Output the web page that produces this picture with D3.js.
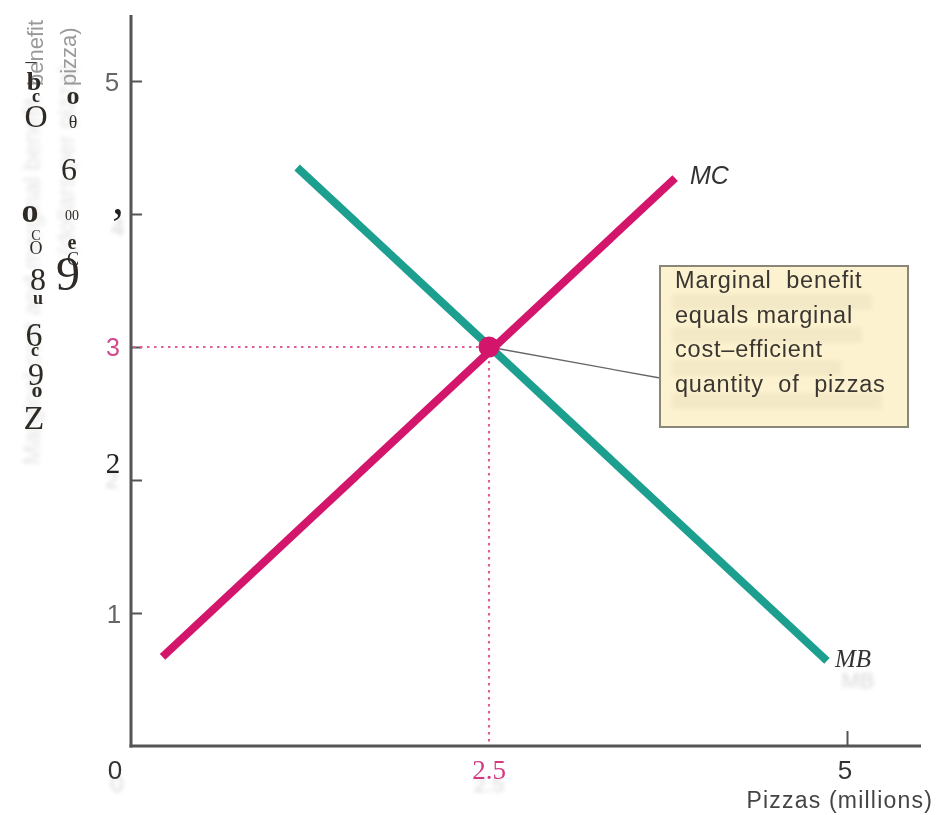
<!DOCTYPE html>
<html>
<head>
<meta charset="utf-8">
<script src="https://cdn.jsdelivr.net/npm/d3@7/dist/d3.min.js"></script>
<style>
  html, body { margin: 0; padding: 0; background: #ffffff; }
  svg { display: block; }
</style>
</head>
<body>
<script>
// Marginal cost (MC) and marginal benefit (MB) of pizza
const xDomain = [0, 5];
const yDomain = [0, 5];
const mcX = [0.22, 3.80];
const mcY = [0.67, 4.27];
const mbX = [1.16, 4.86];
const mbY = [4.35, 0.64];
const efficientQ = 2.5;
const efficientP = 3;
const yTicks = [1, 2, 3, 4, 5];
const yTickLabels = ["1", "2", "3", ",", "5"];
const xTicks = [0, 2.5, 5];
const xTickLabels = ["0", "2.5", "5"];
const noteLines = ["Marginal  benefit", "equals marginal", "cost\u2013efficient", "quantity  of  pizzas"];

const W = 936, H = 815;
const x = d3.scaleLinear().domain(xDomain).range([131, 847]);
const y = d3.scaleLinear().domain(yDomain).range([746, 81]);

const svg = d3.select("body").append("svg").attr("width", W).attr("height", H);
const defs = svg.append("defs");
defs.append("filter").attr("id", "soft").append("feGaussianBlur").attr("stdDeviation", 2.2);
defs.append("filter").attr("id", "soft1").append("feGaussianBlur").attr("stdDeviation", 0.6);

const pink = "#d3166c", teal = "#1d9f90", axisCol = "#555555";
const sans = "'Liberation Sans', Arial, sans-serif";
const serif = "'Liberation Serif', 'Times New Roman', serif";

// faint shadow copies of labels
const ghost = svg.append("g").attr("filter", "url(#soft)").attr("fill", "#d8d8d8");
ghost.append("text").attr("transform", "translate(40,465) rotate(-90)")
  .attr("font-family", sans).attr("font-size", 24).attr("fill", "#e4e4e4")
  .text("Marginal cost and marginal benefit");
ghost.append("text").attr("transform", "translate(74,255) rotate(-90)")
  .attr("font-family", sans).attr("font-size", 24).attr("fill", "#e4e4e4")
  .text("(dollars per pizza)");
ghost.append("text").attr("x", 112).attr("y", 488).attr("font-family", sans).attr("font-size", 24).attr("text-anchor", "middle").text("2");
ghost.append("text").attr("x", 118).attr("y", 236).attr("font-family", sans).attr("font-size", 24).attr("text-anchor", "middle").text("4");
ghost.append("text").attr("x", x(0) - 14).attr("y", 792).attr("font-family", sans).attr("font-size", 24).attr("text-anchor", "middle").text("0");
ghost.append("text").attr("x", x(2.5)).attr("y", 792).attr("font-family", sans).attr("font-size", 22).attr("text-anchor", "middle").text("2.5");
ghost.append("text").attr("x", 858).attr("y", 688).attr("font-family", sans).attr("font-size", 22).attr("text-anchor", "middle").text("MB");

// visible fragments of the vertical axis title
svg.append("text").attr("transform", "translate(43,86) rotate(-90)")
  .attr("font-family", sans).attr("font-size", 22).attr("fill", "#9a9a9a")
  .attr("filter", "url(#soft1)").text("benefit");
svg.append("text").attr("transform", "translate(76,86) rotate(-90)")
  .attr("font-family", sans).attr("font-size", 22).attr("fill", "#9a9a9a")
  .attr("filter", "url(#soft1)").text("pizza)");

// serif glyph residue over the axis title
const glyphs = [
  ["\u2013", 31, 68, 22, "normal"], ["b", 34, 90, 26, "bold"], ["c", 36, 102, 18, "bold"], ["O", 36, 127, 32, "normal"],
  ["o", 73, 104, 26, "bold"], ["\u03b8", 73, 128, 18, "normal"], ["6", 69, 180, 32, "normal"],
  ["o", 30, 222, 34, "bold"], ["00", 72, 220, 14, "normal"], ["C", 36, 240, 14, "normal"], ["O", 36, 254, 18, "normal"],
  ["e", 72, 249, 20, "bold"], ["C", 73, 265, 18, "normal"], ["8", 38, 290, 32, "normal"], ["9", 68, 290, 48, "normal"],
  ["u", 38, 304, 18, "bold"], ["6", 34, 346, 34, "normal"], ["c", 35, 356, 18, "bold"], ["9", 36, 385, 32, "normal"],
  ["o", 37, 397, 22, "bold"], ["Z", 34, 429, 34, "normal"]
];
svg.append("g").selectAll("text").data(glyphs).join("text")
  .attr("x", d => d[1]).attr("y", d => d[2]).attr("font-size", d => d[3]).attr("font-weight", d => d[4])
  .attr("text-anchor", "middle").attr("font-family", serif).attr("fill", "#2e2a25").text(d => d[0]);

// axes
const yAxis = d3.axisLeft(y).tickValues(yTicks).tickSizeInner(-11).tickSizeOuter(0).tickFormat("");
svg.append("g").attr("transform", `translate(${x(0)},0)`).call(yAxis)
  .call(g => g.select(".domain").remove())
  .call(g => g.selectAll(".tick line").attr("stroke", axisCol).attr("stroke-width", 2));
const xAxis = d3.axisBottom(x).tickValues([5]).tickSizeInner(-15).tickSizeOuter(0).tickFormat("");
svg.append("g").attr("transform", `translate(0,${y(0)})`).call(xAxis)
  .call(g => g.select(".domain").remove())
  .call(g => g.selectAll(".tick line").attr("stroke", axisCol).attr("stroke-width", 2));
svg.append("line").attr("x1", x(0)).attr("x2", x(0)).attr("y1", 15).attr("y2", y(0) + 1.5)
  .attr("stroke", axisCol).attr("stroke-width", 3);
svg.append("line").attr("x1", x(0) - 1.5).attr("x2", 921).attr("y1", y(0)).attr("y2", y(0))
  .attr("stroke", axisCol).attr("stroke-width", 3);

// y tick labels
const yLabelStyle = {
  "1": { f: sans, c: "#666", s: 26, dx: -17, dy: 10 },
  "2": { f: serif, c: "#222", s: 29, dx: -18, dy: -7 },
  "3": { f: sans, c: "#d04a8c", s: 25, dx: -18, dy: 9 },
  ",": { f: serif, c: "#222", s: 46, dx: -13, dy: 0 },
  "5": { f: sans, c: "#666", s: 26, dx: -19, dy: 10 }
};
svg.append("g").selectAll("text").data(yTicks).join("text")
  .attr("x", (d, i) => x(0) + yLabelStyle[yTickLabels[i]].dx)
  .attr("y", (d, i) => y(d) + yLabelStyle[yTickLabels[i]].dy)
  .attr("text-anchor", "middle")
  .attr("font-family", (d, i) => yLabelStyle[yTickLabels[i]].f)
  .attr("font-size", (d, i) => yLabelStyle[yTickLabels[i]].s)
  .attr("fill", (d, i) => yLabelStyle[yTickLabels[i]].c)
  .text((d, i) => yTickLabels[i]);

// x tick labels
const xLabelStyle = [
  { f: sans, c: "#333", s: 26, dx: -16 },
  { f: serif, c: "#d23a82", s: 27, dx: 0 },
  { f: sans, c: "#333", s: 26, dx: -2 }
];
svg.append("g").selectAll("text").data(xTicks).join("text")
  .attr("x", (d, i) => x(d) + xLabelStyle[i].dx).attr("y", 779)
  .attr("text-anchor", "middle")
  .attr("font-family", (d, i) => xLabelStyle[i].f)
  .attr("font-size", (d, i) => xLabelStyle[i].s)
  .attr("fill", (d, i) => xLabelStyle[i].c)
  .text((d, i) => xTickLabels[i]);
svg.append("text").attr("x", 933).attr("y", 808).attr("text-anchor", "end")
  .attr("font-family", sans).attr("font-size", 23).attr("letter-spacing", 1.2).attr("fill", "#444")
  .text("Pizzas (millions)");

// dotted guides to the efficient point
const guide = svg.append("g").attr("stroke", "#df5d9a").attr("stroke-width", 2.2).attr("stroke-dasharray", "2.5,4.5");
guide.append("line").attr("x1", x(0) + 2).attr("x2", x(efficientQ)).attr("y1", y(efficientP)).attr("y2", y(efficientP));
guide.append("line").attr("x1", x(efficientQ)).attr("x2", x(efficientQ)).attr("y1", y(efficientP)).attr("y2", y(0) - 2);

// curves
const line = d3.line().x(d => x(d[0])).y(d => y(d[1]));
svg.append("path").datum(d3.zip(mbX, mbY)).attr("d", line)
  .attr("fill", "none").attr("stroke", teal).attr("stroke-width", 8);
svg.append("path").datum(d3.zip(mcX, mcY)).attr("d", line)
  .attr("fill", "none").attr("stroke", pink).attr("stroke-width", 8);

// callout
const box = { x: 660, y: 266, w: 248, h: 161 };
svg.append("line").attr("x1", x(efficientQ)).attr("y1", y(efficientP))
  .attr("x2", box.x).attr("y2", 378).attr("stroke", "#666").attr("stroke-width", 1.3);
svg.append("rect").attr("x", box.x).attr("y", box.y).attr("width", box.w).attr("height", box.h)
  .attr("fill", "#fdf2cf").attr("stroke", "#8a8678").attr("stroke-width", 2);
const ghostNote = svg.append("g").attr("filter", "url(#soft)");
ghostNote.selectAll("rect").data(noteLines).join("rect")
  .attr("x", box.x + 12).attr("y", (d, i) => box.y + 28 + i * 33)
  .attr("width", (d, i) => [200, 190, 170, 210][i]).attr("height", 16)
  .attr("fill", "#efe3c0").attr("opacity", 0.6);
svg.append("g").selectAll("text").data(noteLines).join("text")
  .attr("x", box.x + 15).attr("y", (d, i) => box.y + 22 + i * 34.5)
  .attr("font-family", sans).attr("font-size", 23.5).attr("letter-spacing", 0.8).attr("fill", "#3a3631")
  .attr("xml:space", "preserve").style("white-space", "pre")
  .text(d => d);

// efficient point
svg.append("circle").attr("cx", x(efficientQ)).attr("cy", y(efficientP)).attr("r", 10.5).attr("fill", pink);

// curve labels
svg.append("text").attr("x", 690).attr("y", 184).attr("font-family", sans).attr("font-style", "italic")
  .attr("font-size", 25).attr("fill", "#333").text("MC");
svg.append("text").attr("x", 835).attr("y", 667).attr("font-family", serif).attr("font-style", "italic")
  .attr("font-size", 25).attr("fill", "#333").text("MB");
</script>
</body>
</html>
